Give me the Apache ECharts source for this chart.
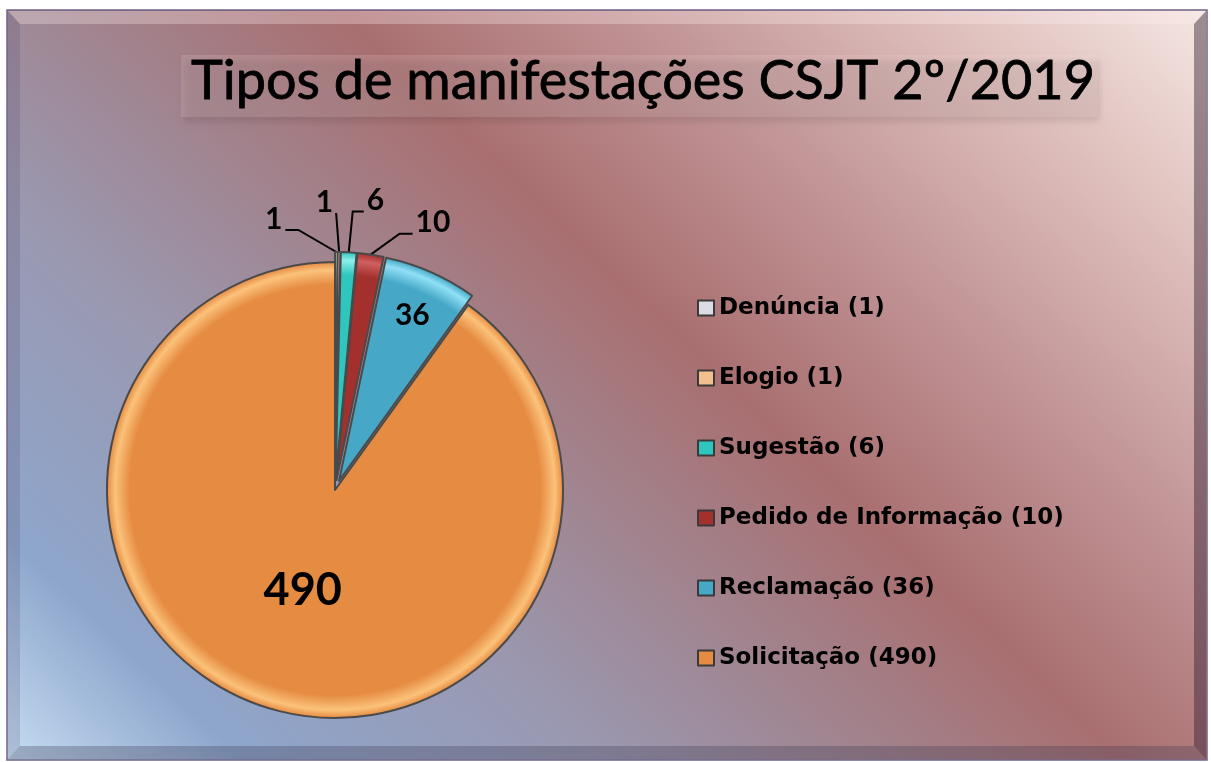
<!DOCTYPE html>
<html>
<head>
<meta charset="utf-8">
<title>Tipos de manifestações CSJT 2º/2019</title>
<script src="https://cdn.jsdelivr.net/npm/echarts@6/dist/echarts.min.js"></script>
<style>
  html, body { margin: 0; padding: 0; background: #fff; }
  #chart { width: 1211px; height: 762px; }
</style>
</head>
<body>
<div id="chart"></div>
<script>
// dados
var categorias = ['Denúncia', 'Elogio', 'Sugestão', 'Pedido de Informação', 'Reclamação', 'Solicitação'];
var quantidades = [1, 1, 6, 10, 36, 490];
var cores = ['#dcdce4', '#f2c08c', '#2ec6be', '#a4302e', '#46a8c6', '#e68b42'];
var coresBorda = ['#ffffff', '#ffe0b8', '#8ff0ea', '#d06060', '#90e0f6', '#fbc27a'];

// linha-guia dos rótulos externos: [dx, dy, cauda horizontal] a partir da borda da fatia
var guias = [[-38, -22, -13], [-3, -39, 0], [4, -41, 11], [29, -21, 13]];
// deslocamento radial dos rótulos internos (36 e 490)
var fatorInterno = { 4: 0.55, 5: -0.1 };
var centro = [335, 490];
var raio = 228;

var valorPor = {};
categorias.forEach(function (c, i) { valorPor[c] = quantidades[i]; });

function preenchimento(i) {
  return {
    type: 'radial', global: true, x: centro[0], y: centro[1], r: raio,
    colorStops: [
      { offset: 0, color: cores[i] },
      { offset: 0.9, color: cores[i] },
      { offset: 0.965, color: coresBorda[i] },
      { offset: 1, color: cores[i] }
    ]
  };
}

var chart = echarts.init(document.getElementById('chart'));

chart.setOption({
  animation: false,
  graphic: [
    {
      type: 'rect', z: -10,
      shape: { x: 7, y: 10, width: 1200, height: 750 },
      style: {
        fill: {
          type: 'linear', global: true, x: 150, y: 900, x2: 1100, y2: -100,
          colorStops: [
            { offset: 0, color: '#c6def2' },
            { offset: 0.12, color: '#8ea6cc' },
            { offset: 0.3, color: '#9a98b0' },
            { offset: 0.45, color: '#a2818a' },
            { offset: 0.56, color: '#a96f70' },
            { offset: 0.7, color: '#c09294' },
            { offset: 0.85, color: '#ddbdba' },
            { offset: 1, color: '#f6e8e4' }
          ]
        },
        stroke: '#6f6286', lineWidth: 1.5
      }
    },
    // chanfro da moldura
    { type: 'polygon', z: -9, shape: { points: [[8, 11], [1206, 11], [1194, 24], [20, 24]] },
      style: { fill: 'rgba(255,240,240,0.3)' } },
    { type: 'polygon', z: -9, shape: { points: [[8, 11], [20, 24], [20, 746], [8, 759]] },
      style: { fill: 'rgba(70,60,100,0.18)' } },
    { type: 'polygon', z: -9, shape: { points: [[1206, 11], [1206, 759], [1194, 746], [1194, 24]] },
      style: { fill: 'rgba(50,30,50,0.45)' } },
    { type: 'polygon', z: -9, shape: { points: [[8, 759], [20, 746], [1194, 746], [1206, 759]] },
      style: { fill: 'rgba(60,55,80,0.3)' } },
    // caixa do título
    {
      type: 'rect', z: -5,
      shape: { x: 181, y: 55, width: 916, height: 62 },
      style: {
        fill: 'rgba(255,225,225,0.16)',
        shadowColor: 'rgba(0,0,0,0.6)', shadowBlur: 6, shadowOffsetX: 3, shadowOffsetY: 5
      }
    }
  ],
  title: {
    text: 'Tipos de manifestações CSJT 2º/2019',
    left: 191, top: 55, padding: 0,
    textStyle: {
      fontFamily: 'Lato', fontSize: 54, fontWeight: 'normal', color: '#000',
      textBorderColor: '#000', textBorderWidth: 0.8
    }
  },
  legend: {
    orient: 'vertical', left: 697, top: 293, padding: 0,
    icon: 'rect', itemWidth: 16, itemHeight: 15, itemGap: 40,
    selectedMode: false,
    itemStyle: { borderColor: '#3a3a3a', borderWidth: 2 },
    textStyle: { fontFamily: 'DejaVu Sans', fontSize: 23, fontWeight: 'bold', color: '#000', lineHeight: 30 },
    formatter: function (n) { return n + ' (' + valorPor[n] + ')'; }
  },
  series: [
    {
      type: 'pie',
      center: centro,
      radius: raio,
      startAngle: 90,
      clockwise: true,
      avoidLabelOverlap: false,
      selectedMode: 'multiple',
      selectedOffset: 10,
      emphasis: { disabled: true },
      itemStyle: { borderColor: '#4a4a4a', borderWidth: 2 },
      select: { itemStyle: { borderColor: '#4a4a4a', borderWidth: 2 } },
      label: {
        formatter: '{c}',
        fontFamily: 'Lato', fontWeight: 'bold', fontSize: 30, color: '#000'
      },
      labelLine: { show: true, length: 20, length2: 10, lineStyle: { color: '#000', width: 2 } },
      labelLayout: function (p) {
        var r = p.labelRect;
        var g = guias[p.dataIndex];
        if (g && p.labelLinePoints) {
          var a = p.labelLinePoints[0];
          var b = [a[0] + g[0], a[1] + g[1]];
          var c = [b[0] + g[2], b[1]];
          var esq = g[0] + g[2] < 0;
          var alvoX = esq ? c[0] - 3 - r.width : c[0] + 3;
          var alvoY = c[1] + 4 - r.height;
          return {
            dx: alvoX - r.x, dy: alvoY - r.y,
            labelLinePoints: [a, b, c]
          };
        }
        var k = fatorInterno[p.dataIndex];
        if (k != null) {
          var lx = r.x + r.width / 2, ly = r.y + r.height / 2;
          return { dx: (lx - centro[0]) * k, dy: (ly - centro[1]) * k };
        }
        return {};
      },
      data: categorias.map(function (c, i) {
        var item = { name: c, value: quantidades[i], selected: i < 5, itemStyle: { color: preenchimento(i) } };
        if (i >= 4) {
          item.label = { position: 'inside', fontSize: i === 5 ? 45 : 30 };
          item.labelLine = { show: false };
        }
        return item;
      })
    }
  ]
});
</script>
</body>
</html>
